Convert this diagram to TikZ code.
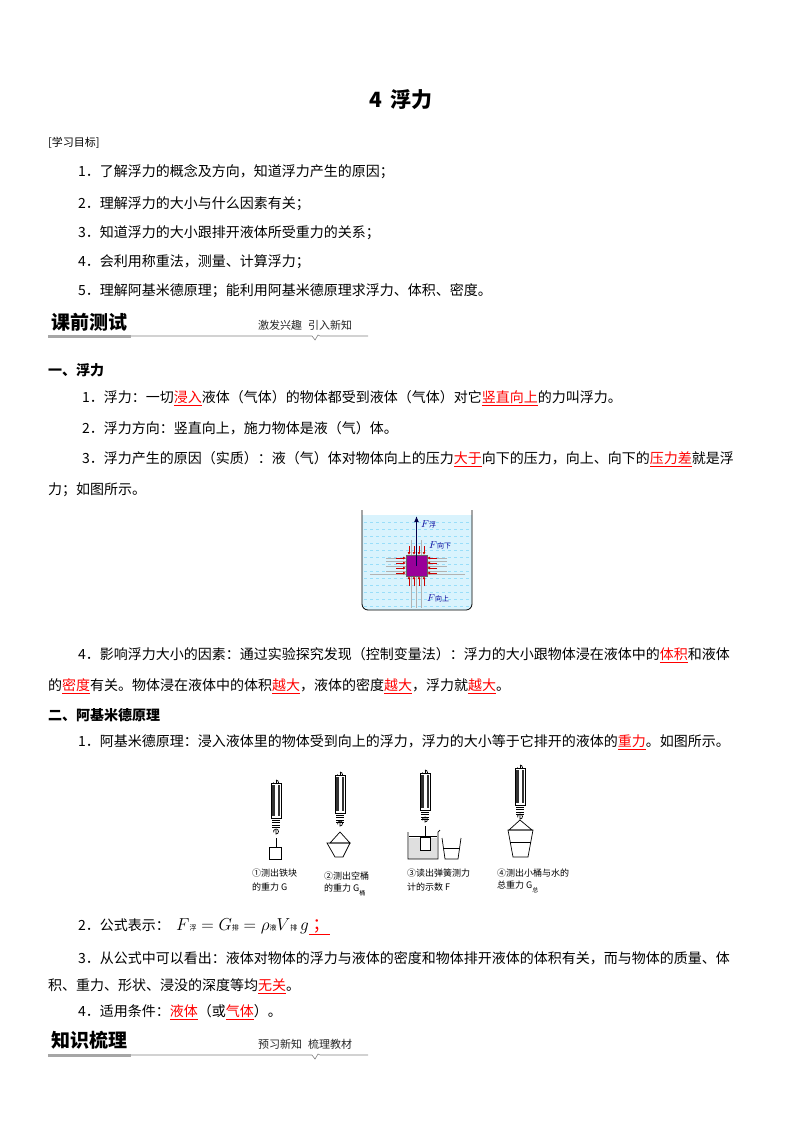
\documentclass[tikz,border=0pt]{standalone}
\usepackage{fontspec}
\setmainfont{Liberation Serif}
\newfontfamily\cjk{Noto Sans CJK SC}
\usetikzlibrary{arrows.meta}
\newcommand{\rd}[1]{{\color{red}\underline{#1}}}
\newcommand{\zh}[1]{\hbox{\cjk\fontsize{7}{8}\selectfont #1}}
\tikzset{
 body/.style={anchor=west,inner sep=0,font=\cjk\fontsize{14}{17}\selectfont},
 bold/.style={anchor=west,inner sep=0,font=\cjk\bfseries\fontsize{14}{17}\selectfont},
 lab/.style={anchor=west,inner sep=0,font=\cjk\fontsize{9}{11}\selectfont},
 ra/.style={red!80!black,line width=0.8pt,-{Latex[length=3pt,width=3pt]}},
 gl/.style={gray!60,line width=0.5pt},
 scalebody/.style={draw,line width=0.8pt,fill=white},
 hdr/.style={inner sep=0,anchor=west,font=\cjk\bfseries\fontsize{19}{22}\selectfont},
 hdrr/.style={lab,font=\cjk\fontsize{11}{13}\selectfont,text=gray!30!black},
}
\begin{document}
\begin{tikzpicture}[x=1pt,y=-1pt]
\useasboundingbox (0,0) rectangle (800,1132);
\node[inner sep=0,font=\cjk\bfseries\fontsize{21}{24}\selectfont] (title) at (401,100) {4\hspace{8pt}浮力};
\node[lab,font=\cjk\fontsize{11}{13}\selectfont] (goal) at (48,143) {[学习目标]};
\node[body] (g1) at (78,172) {1．了解浮力的概念及方向，知道浮力产生的原因；};
\node[body] (g2) at (78,204) {2．理解浮力的大小与什么因素有关；};
\node[body] (g3) at (78,233) {3．知道浮力的大小跟排开液体所受重力的关系；};
\node[body] (g4) at (78,262) {4．会利用称重法，测量、计算浮力；};
\node[body] (g5) at (78,291) {5．理解阿基米德原理；能利用阿基米德原理求浮力、体积、密度。};
% header 1
\node[hdr] (h1) at (51,322) {课前测试};
\node[hdrr] (h1r) at (258,325) {激发兴趣\hspace{6pt}引入新知};
\draw[gray!70,line width=3pt] (48,336) -- (131,336);
\draw[gray,line width=0.6pt] (131,336) -- (312,336) -- (315,340) -- (318,335) -- (320,336) -- (368,336);
\node[bold] (s1) at (48,370) {一、浮力};
\node[body] (a1) at (82,398) {1．浮力：一切\rd{浸入}液体（气体）的物体都受到液体（气体）对它\rd{竖直向上}的力叫浮力。};
\node[body] (a2) at (82,428) {2．浮力方向：竖直向上，施力物体是液（气）体。};
\node[body] (a3) at (82,459) {3．浮力产生的原因（实质）：液（气）体对物体向上的压力\rd{大于}向下的压力，向上、向下的\rd{压力差}就是浮};
\node[body] (a3b) at (48,490) {力；如图所示。};
% beaker figure
\fill[cyan!15] (362,515) -- (362,604) to[out=-90,in=180] (368,610) -- (466,610) to[out=0,in=-90] (472,604) -- (472,515) -- cycle;
\foreach \yy in {522,529,...,606} \draw[cyan!40,dashed,line width=0.4pt] (364,\yy) -- (470,\yy);
\draw[line width=0.8pt] (362,510) -- (362,604) to[out=-90,in=180] (368,610) -- (466,610) to[out=0,in=-90] (472,604) -- (472,510);
\foreach \t in {-1,0,1} {
 \draw[gl] (386,566+5*\t) -- (447,566+5*\t);
 \draw[gl] (416+5*\t,540) -- (416+5*\t,608);}
\draw[gl] (370,574) -- (406,574);\draw[gl] (427,574) -- (465,574);
\draw[gl] (386,558) -- (406,558);\draw[gl] (427,558) -- (447,558);
\node[draw=black!60,fill=violet!80!magenta,minimum size=21pt,inner sep=0] (cube) at (416.5,565.5) {};
\foreach \d in {-7.5,-2.5,2.5,7.5} {
 \draw[ra] (416.5+\d,546) -- (416.5+\d,555);
 \draw[ra] (416.5+\d,586) -- (416.5+\d,576);
 \draw[ra] (396,565.5+\d) -- (406,565.5+\d);
 \draw[ra] (437,565.5+\d) -- (427,565.5+\d);}
\coordinate (ftop) at (416.5,516);
\draw[blue!30!black,line width=1.6pt,-{Latex[length=6pt,width=5pt]}] (cube.center) -- (ftop);
\node[anchor=west,inner sep=0,text=blue!60!black] (fl) at (421,524) {$F$\zh{浮}};
\node[anchor=west,inner sep=0,text=blue!60!black] (fd) at (429,545) {$F$\zh{向下}};
\node[anchor=west,inner sep=0,text=blue!60!black] (fu) at (427,598) {$F$\zh{向上}};
\node[body] (a4) at (78,655) {4．影响浮力大小的因素：通过实验探究发现（控制变量法）：浮力的大小跟物体浸在液体中的\rd{体积}和液体};
\node[body] (a4b) at (48,686) {的\rd{密度}有关。物体浸在液体中的体积\rd{越大}，液体的密度\rd{越大}，浮力就\rd{越大}。};
\node[bold] (s2) at (48,715) {二、阿基米德原理};
\node[body] (b1) at (78,742) {1．阿基米德原理：浸入液体里的物体受到向上的浮力，浮力的大小等于它排开的液体的\rd{重力}。如图所示。};
% spring scales
\foreach \cx/\top/\bot/\sp in {276/783/818/830, 340/775/813/822, 425/773/810/818, 520/768/805/815} {
 \draw[line width=0.7pt] (\cx,\top-3) arc (-90:180:2.5);
 \draw[line width=0.7pt] (\cx,\top-3) -- (\cx,\top);
 \draw[scalebody] (\cx-5,\top) rectangle (\cx+5,\bot);
 \fill[black!80] (\cx-4,\top+2) rectangle (\cx-1.5,\bot-2);
 \fill[black!80] (\cx+1.5,\top+2) rectangle (\cx+4,\bot-2);
 \foreach \k in {0,1,2,3} \draw[line width=0.6pt] (\cx-4,\bot+2+\k*2.5) -- (\cx+4,\bot+2+\k*2.5);
 \draw[line width=0.7pt] (\cx,\sp) -- (\cx,\sp+4) arc (90:-200:2.5);
}
% 1 block
\draw[line width=0.7pt] (276,838) -- (276,847);
\draw[line width=0.7pt] (269.5,847) rectangle (281,859);
% 2 bucket
\draw[line width=0.7pt] (340,832) -- (330,843) -- (350,843) -- cycle;
\draw[line width=0.7pt] (327,843) -- (350,843) -- (343,857) -- (335,857) -- cycle;
% 3 beaker with block
\fill[gray!25] (409,838) rectangle (437,859);
\draw[line width=0.7pt] (408,832) -- (408,859) -- (438,859) -- (438,832) -- (440,830);
\draw[line width=0.4pt] (409,836) -- (437,836);
\draw[line width=0.7pt] (425,826) -- (425,837);
\draw[line width=0.7pt,fill=white] (420,837) rectangle (430,850);
\draw[line width=0.7pt] (442,838) -- (445,859) -- (458,859) -- (461,838);
\draw[line width=0.4pt] (444,848) -- (459,848);
% 4 bucket with water
\draw[line width=0.7pt] (520,820) -- (509,830) -- (532,830) -- cycle;
\draw[line width=0.7pt] (508,830) -- (533,830) -- (528,857) -- (513,857) -- cycle;
\draw[line width=0.4pt] (510,842) -- (531,842);
\node[lab] (l1a) at (252,873) {①测出铁块};
\node[lab] (l1b) at (252,887) {的重力 G};
\node[lab] (l2a) at (324,876) {②测出空桶};
\node[lab] (l2b) at (324,890) {的重力 G\raisebox{-4pt}{\fontsize{6}{7}\selectfont 桶}};
\node[lab] (l3a) at (407,873) {③读出弹簧测力};
\node[lab] (l3b) at (407,887) {计的示数 F};
\node[lab] (l4a) at (497,873) {④测出小桶与水的};
\node[lab] (l4b) at (497,887) {总重力 G\raisebox{-4pt}{\fontsize{6}{7}\selectfont 总}};
\node[body] (b2) at (78,927) {2．公式表示：\ \ \fontsize{17}{19}\selectfont $F$\zh{浮}$\;=G$\zh{排}$\;=\rho$\zh{液}$V$\zh{排}$\,g$\rd{\ ；}};
\node[body] (b3) at (78,958) {3．从公式中可以看出：液体对物体的浮力与液体的密度和物体排开液体的体积有关，而与物体的质量、体};
\node[body] (b3b) at (48,986) {积、重力、形状、浸没的深度等均\rd{无关}。};
\node[body] (b4) at (78,1012) {4．适用条件：\rd{液体}（或\rd{气体}）。};
\node[hdr] (h2) at (51,1040) {知识梳理};
\node[hdrr] (h2r) at (258,1044) {预习新知\hspace{6pt}梳理教材};
\draw[gray!70,line width=3pt] (48,1055) -- (131,1055);
\draw[gray,line width=0.6pt] (131,1055) -- (312,1055) -- (315,1059) -- (318,1054) -- (320,1055) -- (368,1055);
\end{tikzpicture}
\end{document}
